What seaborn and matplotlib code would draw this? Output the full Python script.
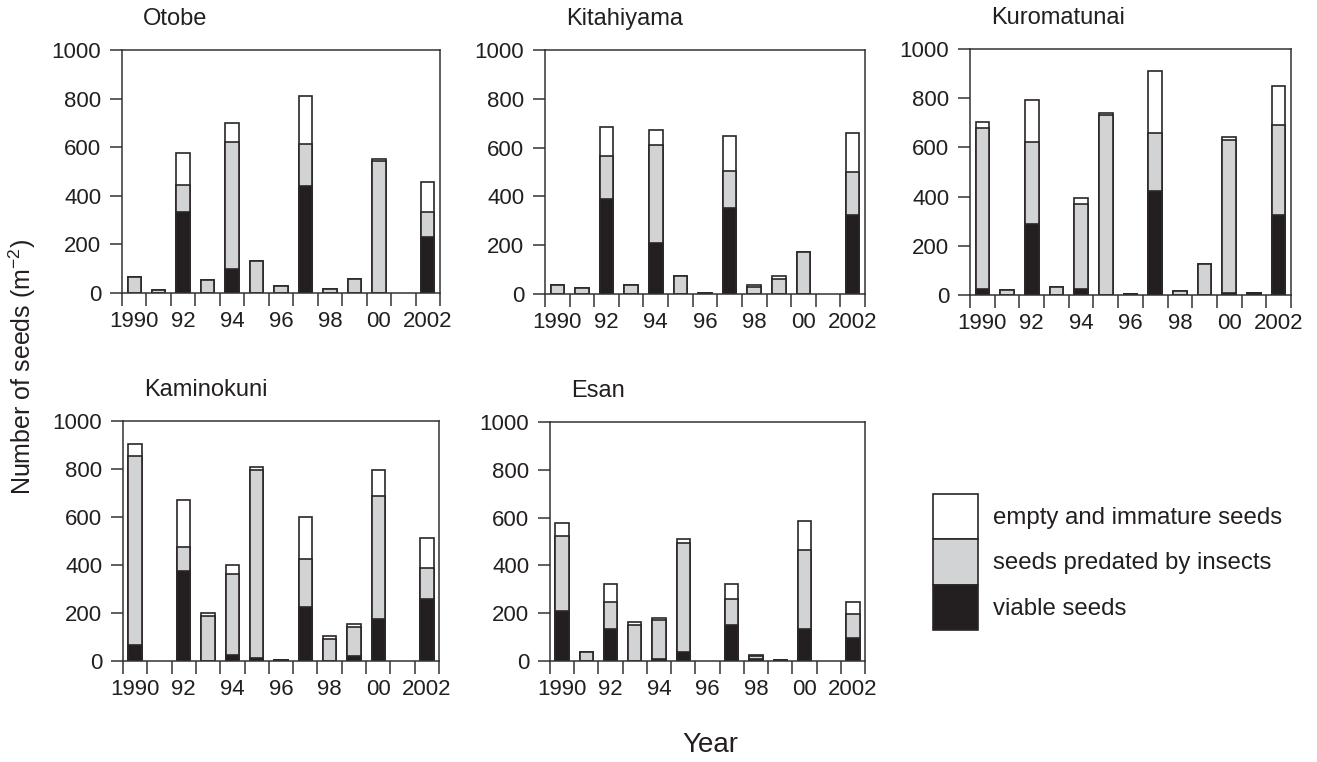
import matplotlib
matplotlib.use("Agg")
import matplotlib.pyplot as plt
from matplotlib.patches import Patch
import seaborn as sns
import pandas as pd
import numpy as np

sns.set_theme(style="white")
plt.rcParams['font.family'] = ['Liberation Sans', 'DejaVu Sans']
plt.rcParams['mathtext.fontset'] = 'custom'
plt.rcParams['mathtext.rm'] = 'Liberation Sans'

years = list(range(1990, 2003))
year_labels = ['1990', '', '92', '', '94', '', '96', '', '98', '', '00', '', '2002']
y_ticks = [0, 200, 400, 600, 800, 1000]

# Otobe
otobe_viable   = [0, 0, 335, 0, 99, 0, 0, 442, 0, 0, 0, 0, 229]
otobe_predated = [66, 11, 111, 55, 522, 130, 30, 172, 18, 56, 543, 0, 106]
otobe_empty    = [0, 0, 130, 0, 79, 0, 0, 196, 0, 0, 8, 0, 122]
# Kitahiyama
kita_viable   = [0, 0, 389, 0, 210, 0, 0, 352, 0, 0, 0, 0, 322]
kita_predated = [37, 23, 178, 37, 401, 74, 5, 153, 27, 63, 173, 0, 178]
kita_empty    = [0, 0, 117, 0, 61, 0, 0, 143, 10, 12, 0, 0, 160]
# Kuromatunai
kuro_viable   = [23, 0, 287, 0, 23, 0, 6, 423, 0, 0, 9, 8, 324]
kuro_predated = [655, 22, 336, 34, 348, 732, 0, 237, 18, 126, 621, 0, 367]
kuro_empty    = [24, 0, 170, 0, 25, 8, 0, 251, 0, 0, 11, 0, 159]
# Kaminokuni
kami_viable   = [68, 0, 376, 0, 24, 11, 5, 225, 0, 19, 175, 0, 258]
kami_predated = [785, 0, 99, 186, 338, 786, 0, 200, 92, 123, 514, 0, 130]
kami_empty    = [50, 0, 196, 14, 38, 11, 0, 175, 12, 14, 107, 0, 126]
# Esan
esan_viable   = [209, 0, 134, 0, 7, 39, 0, 152, 10, 5, 134, 0, 96]
esan_predated = [315, 38, 111, 152, 164, 453, 0, 106, 9, 0, 331, 0, 99]
esan_empty    = [55, 0, 77, 12, 11, 19, 0, 64, 6, 0, 121, 0, 50]

sites = ['Otobe', 'Kitahiyama', 'Kuromatunai', 'Kaminokuni', 'Esan']
site_data = {
    'Otobe': (otobe_viable, otobe_predated, otobe_empty),
    'Kitahiyama': (kita_viable, kita_predated, kita_empty),
    'Kuromatunai': (kuro_viable, kuro_predated, kuro_empty),
    'Kaminokuni': (kami_viable, kami_predated, kami_empty),
    'Esan': (esan_viable, esan_predated, esan_empty),
}

legend_labels = ['empty and immature seeds', 'seeds predated by insects', 'viable seeds']
c_white = '#ffffff'
c_gray = '#d1d3d4'
c_black = '#231f20'
edge = '#2b2627'

W, H = 1317, 762
# axes boxes in pixels: left, top, right, bottom
boxes = {
    'Otobe': (122, 50, 440, 293),
    'Kitahiyama': (545, 50, 865, 294),
    'Kuromatunai': (970, 49, 1291, 295),
    'Kaminokuni': (123, 421, 439, 661),
    'Esan': (550, 422, 865, 661),
}

fig = plt.figure(figsize=(W / 100, H / 100), dpi=100)
fs = 16

for site in sites:
    l, t, r, b = boxes[site]
    ax = fig.add_axes([l / W, 1 - b / H, (r - l) / W, (b - t) / H])
    viable, pred, empty = site_data[site]
    df = pd.DataFrame({'year': years, 'viable': viable, 'pred': pred, 'empty': empty})
    df['c2'] = df['viable'] + df['pred']
    df['c3'] = df['c2'] + df['empty']
    for col, colr in [('c3', c_white), ('c2', c_gray), ('viable', c_black)]:
        sub = df[df[col] > 0]
        sns.barplot(data=sub, x='year', y=col, order=years, width=0.55,
                    color=colr, saturation=1, edgecolor=edge, linewidth=1.2,
                    errorbar=None, ax=ax)
    ax.set_xlim(-0.5, len(years) - 0.5)
    ax.set_ylim(0, 1000)
    ax.set_xlabel('')
    ax.set_ylabel('')
    ax.set_xticks(range(len(years)))
    ax.set_xticklabels(year_labels)
    ax.set_xticks(np.arange(-0.5, len(years), 1.0), minor=True)
    ax.set_yticks(y_ticks)
    ax.set_yticklabels([str(v) for v in y_ticks])
    ax.tick_params(axis='x', which='major', length=0, pad=13, labelsize=fs, colors='#231f20')
    ax.tick_params(axis='x', which='minor', length=9, width=1.1, direction='out',
                   color='#333333', bottom=True)
    ax.tick_params(axis='y', which='major', length=9, width=1.1, direction='out',
                   pad=6, labelsize=fs, color='#333333', labelcolor='#231f20', left=True)
    for sp in ax.spines.values():
        sp.set_visible(True)
        sp.set_color('#333333')
        sp.set_linewidth(1.1)
    ax.grid(False)
    ax.text(21 / (r - l), 1 + 31 / (b - t), site, transform=ax.transAxes,
            ha='left', va='center', fontsize=17, color='#231f20')

fig.text(22 / W, 1 - 367 / H, 'Number of seeds (m$^{\\mathregular{-2}}$)', rotation=90,
         ha='center', va='center', fontsize=18, color='#231f20')
fig.text(710 / W, 1 - 745 / H, 'Year', ha='center', va='center', fontsize=20, color='#231f20')

lfs = 17.3
handles = [Patch(facecolor=c, edgecolor=edge, linewidth=1.2) for c in (c_white, c_gray, c_black)]
leg = fig.legend(handles, legend_labels, loc='upper left',
                 bbox_to_anchor=(933 / W, 1 - 494 / H), frameon=False,
                 fontsize=lfs, handlelength=32.4 / lfs, handleheight=2.53,
                 handletextpad=0.62, labelspacing=0, borderpad=0, borderaxespad=0)
for txt in leg.get_texts():
    txt.set_color('#231f20')

fig.savefig('out.png', dpi=100)
